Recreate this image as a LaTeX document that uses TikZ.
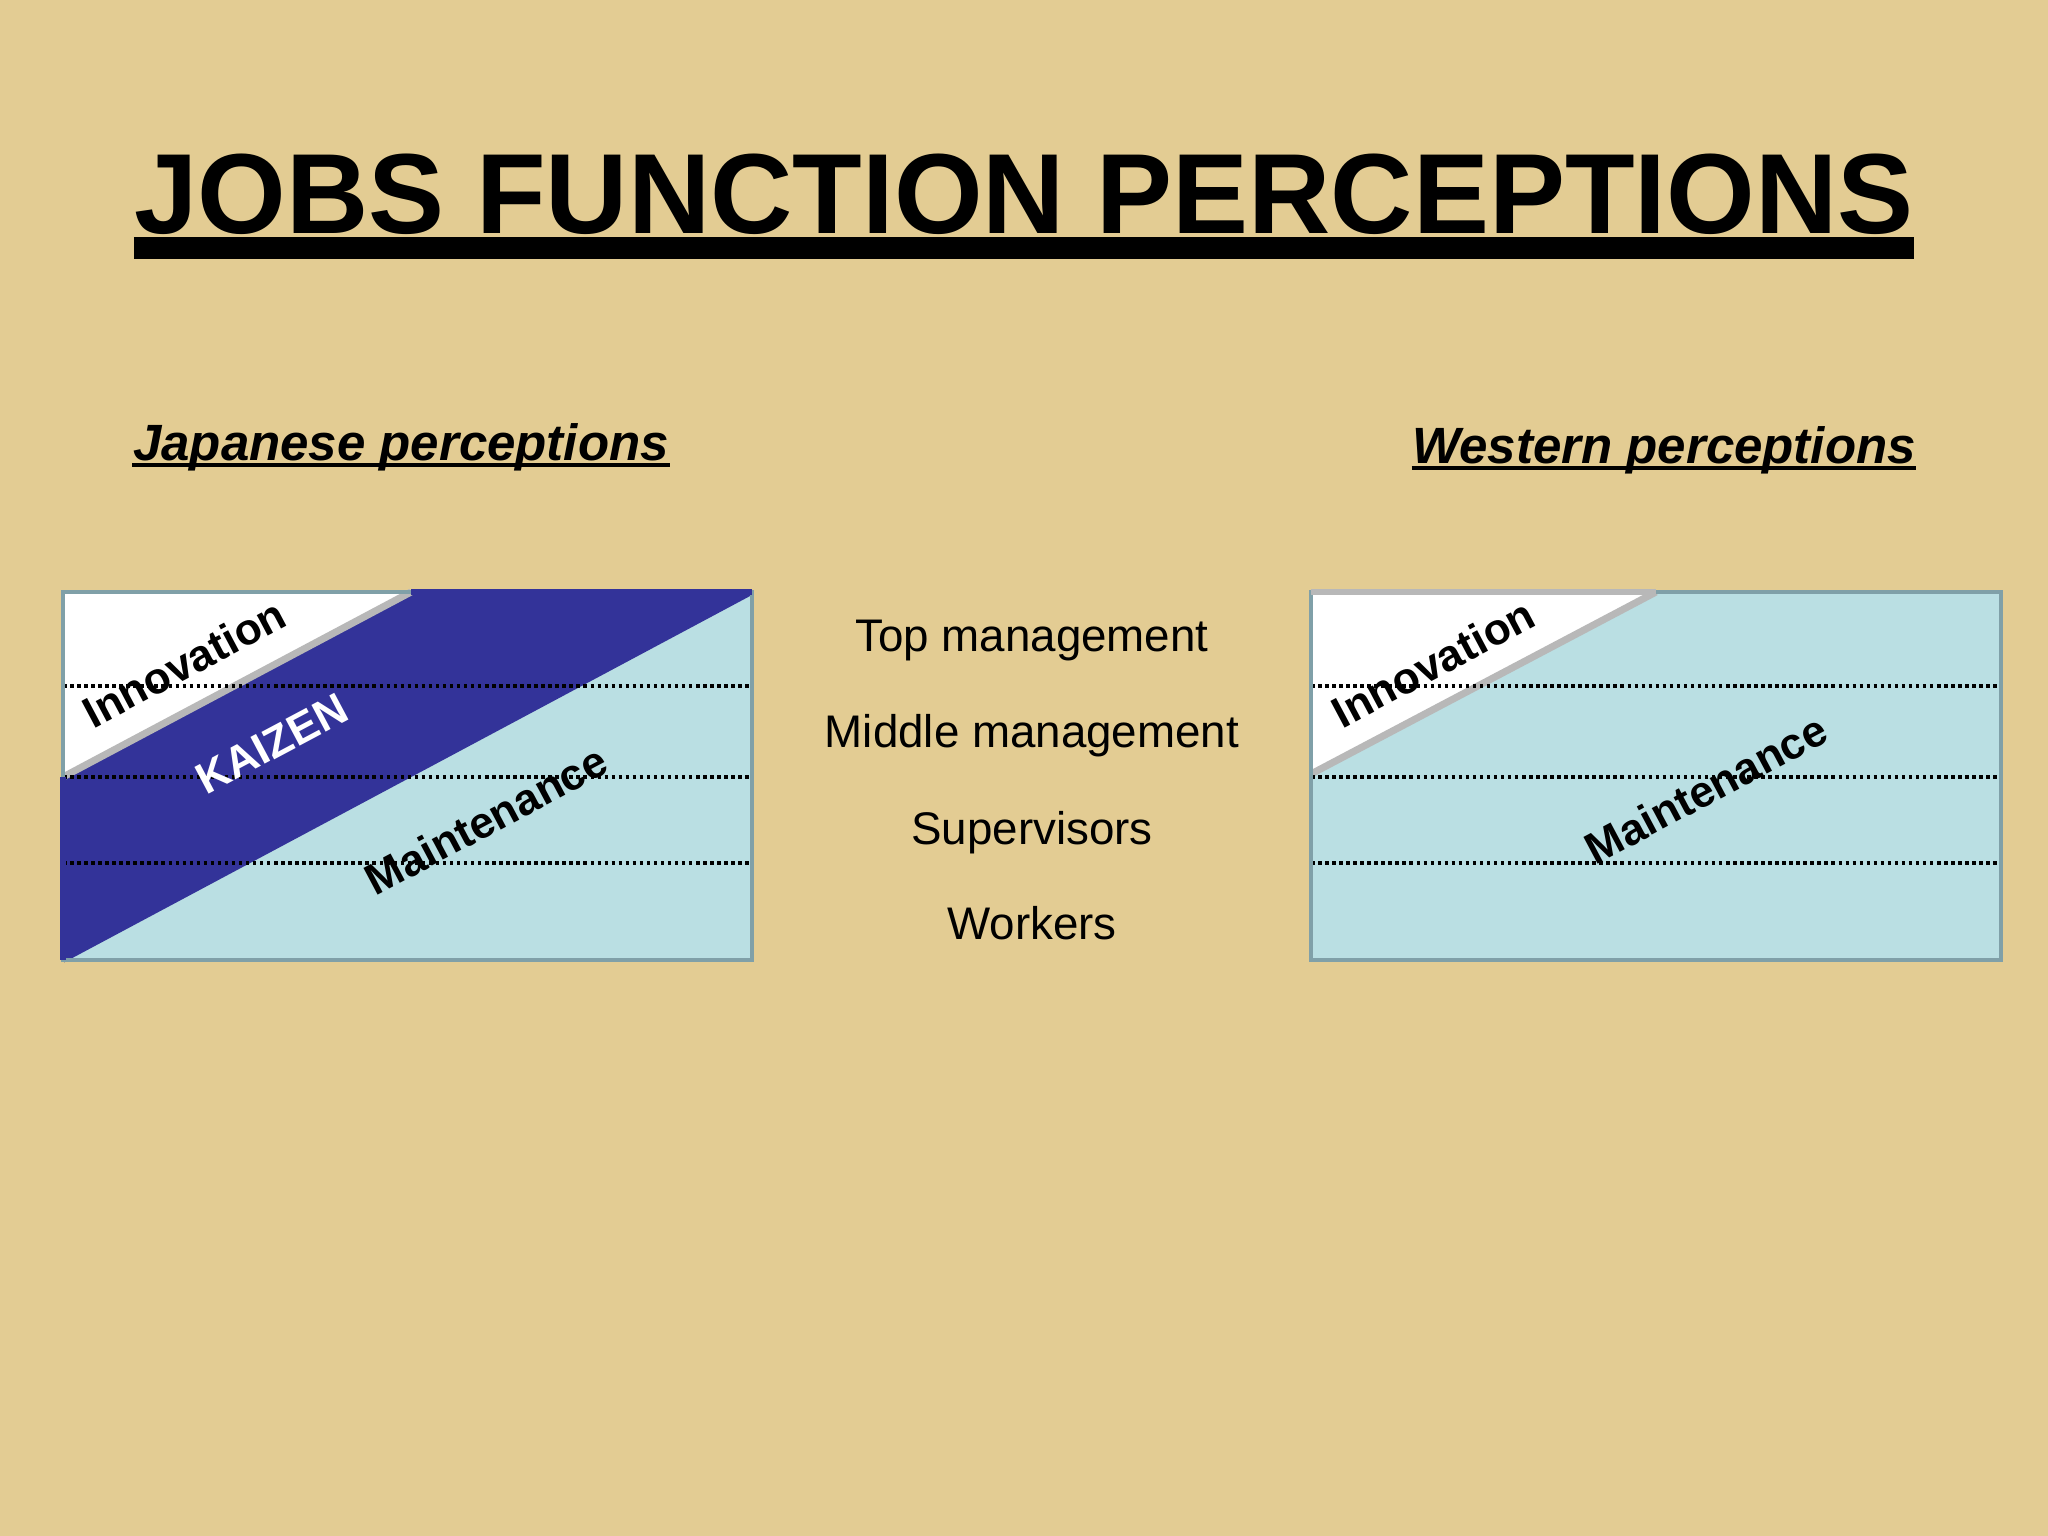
\documentclass[tikz,border=0pt]{standalone}
\usepackage{fontspec}
\setmainfont{Liberation Sans}
\definecolor{paper}{RGB}{227,204,147}
\definecolor{sky}{RGB}{186,223,227}
\definecolor{edge}{RGB}{128,160,168}
\definecolor{kaizenblue}{RGB}{51,51,153}
\definecolor{slash}{RGB}{184,184,184}

\begin{document}
\begin{tikzpicture}[
      x=0.01cm, y=-0.01cm,
      every node/.style={inner sep=0pt},
      heading/.style={font=\fontsize{32.4}{36}\selectfont\bfseries},
      side/.style={font=\fontsize{14.5}{16}\selectfont\bfseries\itshape},
      level/.style={font=\fontsize{13}{15}\selectfont},
      slanted/.style={font=\fontsize{12.5}{14}\selectfont\bfseries, rotate=28},
      rank/.style={line width=1pt, dash pattern=on 1pt off 1pt},
      frame/.style={draw=edge, line width=1.2pt}
    ]

      % background
      \fill[paper] (0,0) rectangle (2048,1536);

      % titles
      \node[heading] (title) at (1024,194) {JOBS FUNCTION PERCEPTIONS};
      \draw[line width=6.5pt] (title.west |- 0,248) -- (title.east |- 0,248);
      \node[side] (jap) at (401,447) {Japanese perceptions};
      \draw[line width=1.1pt] (jap.west |- 0,465) -- (jap.east |- 0,465);
      \node[side] (west) at (1664,450) {Western perceptions};
      \draw[line width=1.1pt] (west.west |- 0,468) -- (west.east |- 0,468);

      % Japanese box
      \fill[sky] (63,592) rectangle (752,960);
      \fill[white] (63,592) -- (411,592) -- (63,777) -- cycle;
      \fill[kaizenblue] (411,592) -- (752,592) -- (63,960) -- (63,777) -- cycle;
      \draw[slash, line width=2pt] (411,592) -- (63,777);
      \draw[kaizenblue, line width=1.5pt] (752,592) -- (63,960);
      \foreach \y in {686,777,863}
        \draw[rank] (63,\y) -- (752,\y);
      \draw[frame] (63,592) rectangle (752,960);
      \draw[kaizenblue, line width=1.5pt] (63,777) -- (63,960) (411,592) -- (752,592);
      \node[slanted] (janno) at (184,663) {Innovation};
      \node[slanted, white] (kaizen) at (272,744) {KAIZEN};
      \node[slanted] (jmaint) at (486,820) {Maintenance};

      % Western box
      \fill[sky] (1311,592) rectangle (2001,960);
      \fill[white] (1311,592) -- (1656,592) -- (1311,774) -- cycle;
      \draw[slash, line width=2pt] (1656,592) -- (1311,774);
      \foreach \y in {686,777,863}
        \draw[rank] (1311,\y) -- (2001,\y);
      \draw[frame] (1311,592) rectangle (2001,960);
      \draw[slash, line width=1.5pt] (1311,592) -- (1656,592);
      \node[slanted] (winno) at (1433,663) {Innovation};
      \node[slanted] (wmaint) at (1706,789) {Maintenance};

      % levels
      \node[level] (top) at (1032,641) {Top management};
      \node[level] (middle) at (1032,736) {Middle management};
      \node[level] (super) at (1032,833) {Supervisors};
      \node[level] (work) at (1032,923) {Workers};
    \end{tikzpicture}
\end{document}
